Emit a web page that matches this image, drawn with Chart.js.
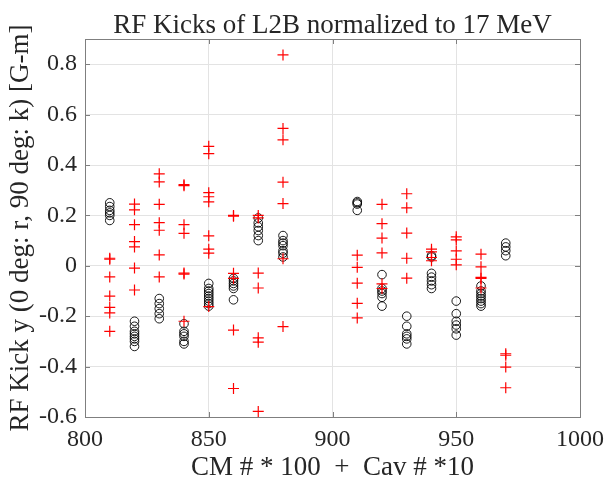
<!DOCTYPE html>
<html>
<head>
<meta charset="utf-8">
<script src="https://cdn.jsdelivr.net/npm/chart.js@4.4.0/dist/chart.umd.min.js"></script>
<style>
  html, body { margin: 0; padding: 0; background: #fff; }
  #wrap { width: 612px; height: 489px; }
</style>
</head>
<body>
<div id="wrap"><canvas id="kickChart" width="612" height="489"></canvas></div>
<script>
// Cavity index: CM # * 100 + Cav # * 10
const cavities = [810, 820, 830, 840, 850, 860, 870, 880, 910, 920, 930, 940, 950, 960, 970];

// Black circles, one list per cavity [G-m]
const circleKicks = [
  [0.25, 0.235, 0.22, 0.21, 0.2, 0.18],
  [-0.22, -0.24, -0.26, -0.27, -0.28, -0.29, -0.3, -0.32],
  [-0.13, -0.15, -0.17, -0.19, -0.21],
  [-0.23, -0.26, -0.27, -0.28, -0.3, -0.31],
  [-0.07, -0.09, -0.1, -0.11, -0.12, -0.13, -0.14, -0.15, -0.16],
  [-0.05, -0.06, -0.07, -0.08, -0.09, -0.135],
  [0.19, 0.17, 0.155, 0.14, 0.12, 0.1],
  [0.12, 0.1, 0.09, 0.08, 0.06, 0.05, 0.035],
  [0.255, 0.25, 0.245, 0.22],
  [-0.035, -0.09, -0.1, -0.11, -0.125, -0.16],
  [-0.2, -0.24, -0.27, -0.28, -0.29, -0.31],
  [0.04, 0.035, -0.03, -0.045, -0.06, -0.075, -0.09],
  [-0.14, -0.19, -0.22, -0.235, -0.25, -0.275],
  [-0.08, -0.1, -0.11, -0.12, -0.13, -0.14, -0.15, -0.16],
  [0.09, 0.075, 0.06, 0.04]
];

// Red pluses, one list per cavity [G-m]
const plusKicks = [
  [0.03, 0.026, -0.044, -0.12, -0.165, -0.187, -0.26],
  [0.245, 0.222, 0.163, 0.096, 0.075, -0.009, -0.096],
  [0.365, 0.333, 0.244, 0.171, 0.141, 0.043, -0.044],
  [0.322, 0.318, 0.163, 0.129, -0.029, -0.033, -0.22],
  [0.474, 0.445, 0.29, 0.274, 0.254, 0.119, 0.066, 0.05, -0.162],
  [0.2, 0.197, -0.03, -0.05, -0.255, -0.487],
  [0.2, 0.19, -0.029, -0.088, -0.286, -0.303, -0.578],
  [0.837, 0.545, 0.5, 0.332, 0.247, 0.028, -0.241],
  [0.042, -0.006, -0.069, -0.149, -0.207],
  [0.244, 0.167, 0.11, 0.051, -0.072, -0.09],
  [0.286, 0.23, 0.13, 0.03, -0.049],
  [0.066, 0.055, 0.033, 0.02],
  [0.115, 0.103, 0.059, 0.026, 0.004],
  [0.046, -0.004, -0.046, -0.05, -0.088],
  [-0.349, -0.355, -0.402, -0.484]
];

const xTicks = [800, 850, 900, 950, 1000];
const yTicks = [-0.6, -0.4, -0.2, 0, 0.2, 0.4, 0.6, 0.8];

const toPoints = lists => cavities.flatMap((c, i) => lists[i].map(v => ({ x: c, y: v })));

const serif = '"Liberation Serif", "Times New Roman", serif';
const textColor = '#262626';

// Title centred on the plot box, plus a Matlab-style box with inward ticks
const frame = {
  id: 'frame',
  afterDraw(chart) {
    const { ctx, chartArea: a, scales } = chart;
    ctx.save();
    ctx.strokeStyle = '#7f7f7f';
    ctx.lineWidth = 1;
    ctx.strokeRect(Math.round(a.left) + 0.5, Math.round(a.top) + 0.5,
      Math.round(a.right - a.left), Math.round(a.bottom - a.top));
    ctx.beginPath();
    xTicks.forEach(v => {
      const px = Math.round(scales.x.getPixelForValue(v)) + 0.5;
      ctx.moveTo(px, a.top); ctx.lineTo(px, a.top + 5);
      ctx.moveTo(px, a.bottom); ctx.lineTo(px, a.bottom - 5);
    });
    yTicks.forEach(v => {
      const py = Math.round(scales.y.getPixelForValue(v)) + 0.5;
      ctx.moveTo(a.left, py); ctx.lineTo(a.left + 5, py);
      ctx.moveTo(a.right, py); ctx.lineTo(a.right - 5, py);
    });
    ctx.stroke();
    ctx.fillStyle = textColor;
    ctx.font = '27px ' + serif;
    ctx.textAlign = 'center';
    ctx.textBaseline = 'alphabetic';
    ctx.fillText('RF Kicks of L2B normalized to 17 MeV', (a.left + a.right) / 2, 33);
    ctx.restore();
  }
};

new Chart(document.getElementById('kickChart'), {
  type: 'scatter',
  data: {
    datasets: [
      {
        label: '90 deg',
        data: toPoints(plusKicks),
        pointStyle: 'cross',
        pointRadius: 5.5,
        borderColor: '#ff0000',
        borderWidth: 1.2,
        order: 0
      },
      {
        label: '0 deg',
        data: toPoints(circleKicks),
        pointStyle: 'circle',
        pointRadius: 4.3,
        borderColor: '#000000',
        backgroundColor: 'rgba(0,0,0,0)',
        borderWidth: 0.9,
        order: 1
      }
    ]
  },
  options: {
    responsive: false,
    animation: false,
    layout: { padding: { top: 39, right: 24, left: 0, bottom: 0 } },
    plugins: {
      legend: { display: false },
      tooltip: { enabled: false }
    },
    scales: {
      x: {
        type: 'linear',
        min: 800,
        max: 1000,
        afterBuildTicks: s => { s.ticks = xTicks.map(v => ({ value: v })); },
        afterFit: s => { s.height = 72; },
        grid: { color: '#e3e3e3', drawTicks: false },
        border: { display: false },
        ticks: {
          color: textColor,
          font: { family: serif, size: 24 },
          padding: 8,
          callback: v => String(v)
        },
        title: {
          display: true,
          text: 'CM # * 100  +  Cav # *10',
          color: textColor,
          font: { family: serif, size: 27 },
          padding: { top: 0, bottom: 5 }
        }
      },
      y: {
        type: 'linear',
        min: -0.6,
        max: 0.9,
        afterBuildTicks: s => { s.ticks = yTicks.map(v => ({ value: v })); },
        afterFit: s => { s.width = 85; },
        grid: { color: '#e3e3e3', drawTicks: false },
        border: { display: false },
        ticks: {
          color: textColor,
          font: { family: serif, size: 24 },
          padding: 8,
          callback: v => (Math.abs(v) < 1e-9 ? '0' : v.toFixed(1))
        },
        title: {
          display: true,
          text: 'RF Kick y (0 deg: r, 90 deg: k) [G-m]',
          color: textColor,
          font: { family: serif, size: 27 },
          padding: { top: 5, bottom: 0 }
        }
      }
    }
  },
  plugins: [frame]
});
</script>
</body>
</html>
